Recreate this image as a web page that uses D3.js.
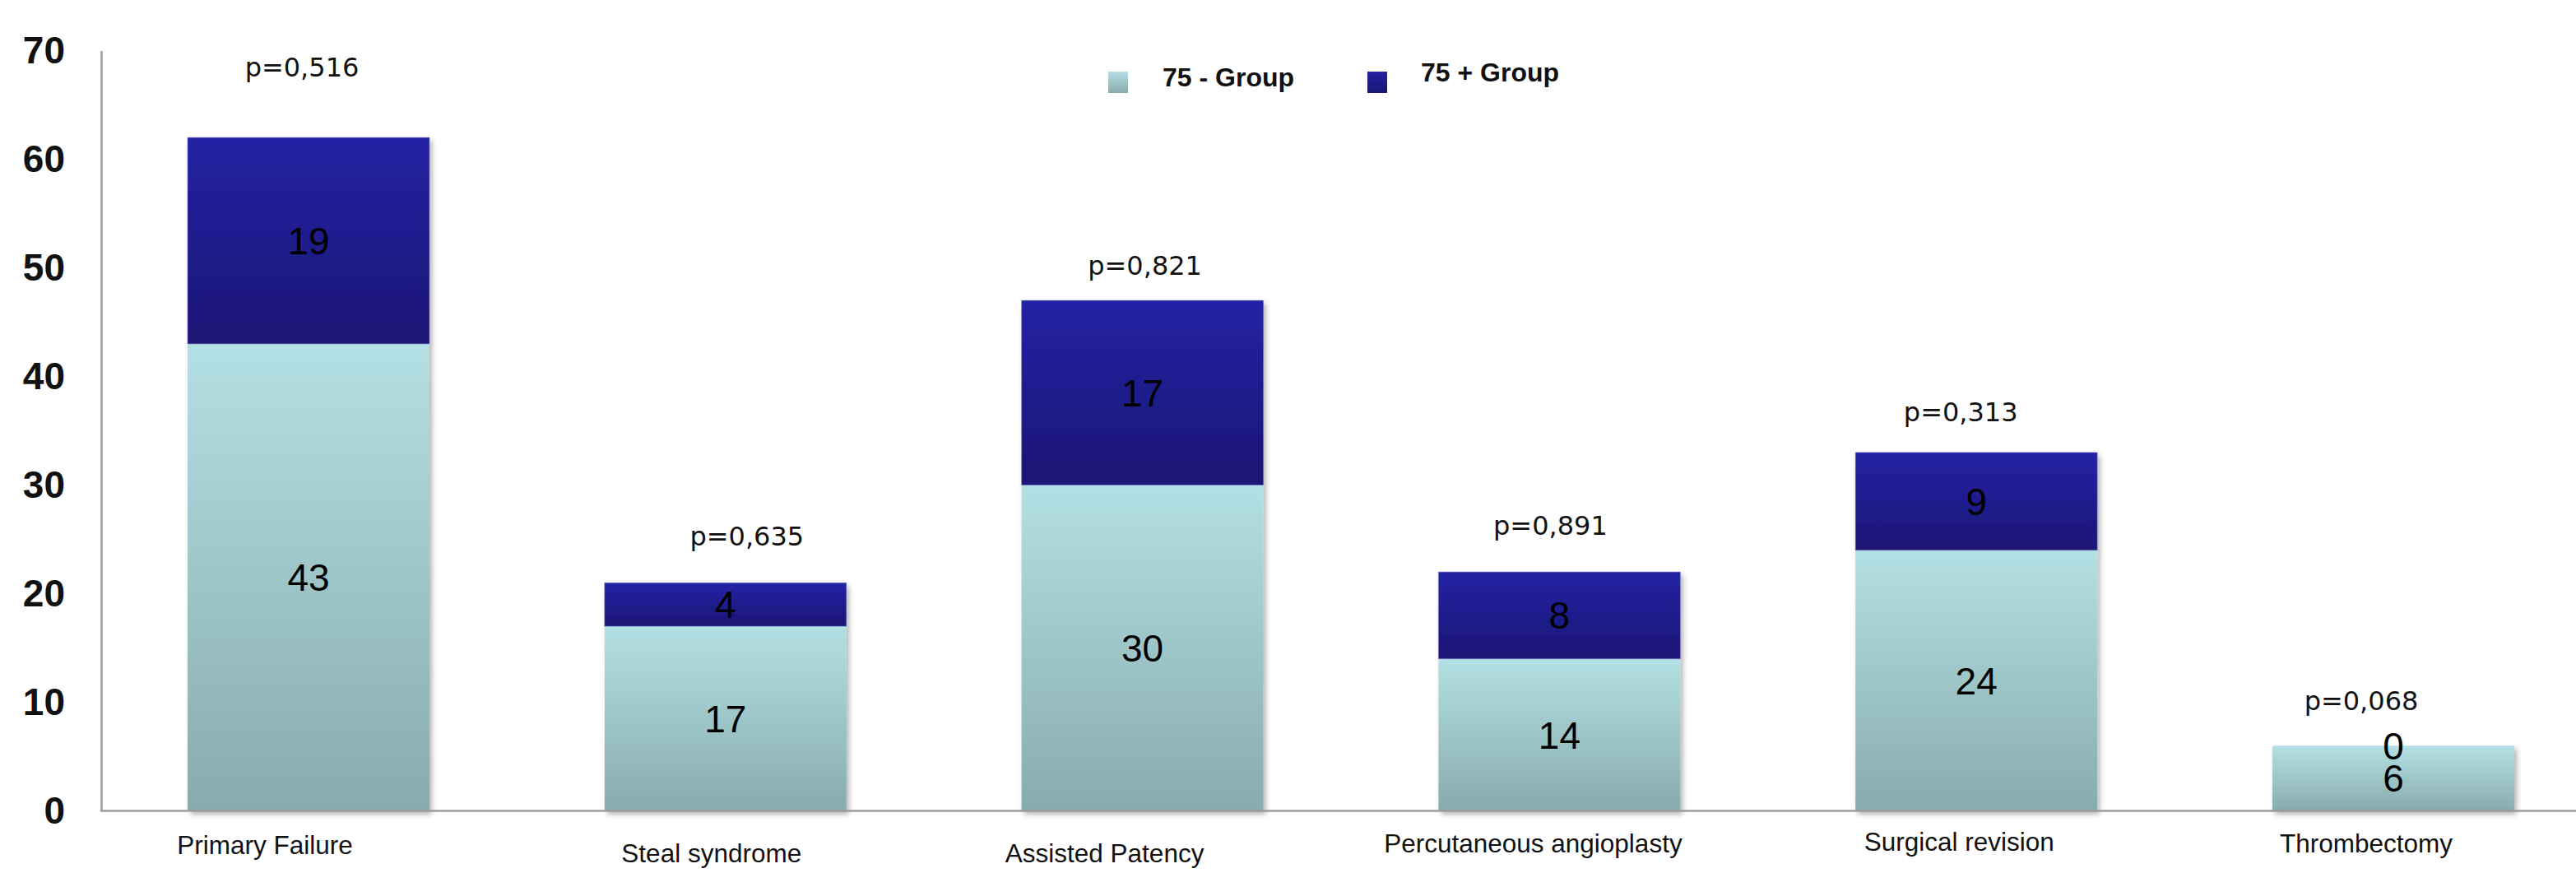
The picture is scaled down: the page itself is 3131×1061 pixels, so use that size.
<!DOCTYPE html>
<html>
<head>
<meta charset="utf-8">
<script src="https://cdn.jsdelivr.net/npm/d3@7/dist/d3.min.js"></script>
<style>
  html, body { margin: 0; padding: 0; background: #ffffff; }
  svg { display: block; }
</style>
</head>
<body>
<svg id="chart" width="3131" height="1061"></svg>
<script>
// Complications by age group (stacked counts)
const categories = ["Primary Failure", "Steal syndrome", "Assisted Patency",
                    "Percutaneous angioplasty", "Surgical revision", "Thrombectomy"];
const under75 = [43, 17, 30, 14, 24, 6];
const over75  = [19, 4, 17, 8, 9, 0];
const pValues = ["p=0,516", "p=0,635", "p=0,821", "p=0,891", "p=0,313", "p=0,068"];
const seriesNames = ["75 - Group", "75 + Group"];
const yTicks = [0, 10, 20, 30, 40, 50, 60, 70];

// Hand-placed nudges for the annotation texts (pixels)
const catLabelShift = [[-53, 52], [-17, 62], [-46, 62], [-32, 50], [-21, 48], [-33, 50]];
const pLabelShift   = [[-8, -74], [26, -45], [3, -31], [-11, -45], [-19, -38], [-39, -43]];

const W = 3131, H = 1061;
const svg = d3.select("#chart");

const x = d3.scaleBand().domain(categories).range([121.6, 3162.4])
  .paddingInner(0.42).paddingOuter(0.21);
const y = d3.scaleLinear().domain([0, 70]).range([985.5, 61.5]);

const defs = svg.append("defs");
function vGrad(id, top, bottom) {
  const g = defs.append("linearGradient").attr("id", id)
    .attr("x1", 0).attr("y1", 0).attr("x2", 0).attr("y2", 1);
  g.append("stop").attr("offset", "0%").attr("stop-color", top);
  g.append("stop").attr("offset", "100%").attr("stop-color", bottom);
}
vGrad("gLight", "#b3e0e4", "#88abad");
vGrad("gDark", "#2422a5", "#1a1674");
const colors = ["url(#gLight)", "url(#gDark)"];

const shadow = defs.append("filter").attr("id", "shadow")
  .attr("x", "-10%").attr("y", "-10%").attr("width", "130%").attr("height", "130%");
shadow.append("feDropShadow").attr("dx", 3).attr("dy", 4).attr("stdDeviation", 3)
  .attr("flood-color", "#000").attr("flood-opacity", 0.3);

// Stacked layout
const rows = categories.map((c, i) => ({ cat: c, under: under75[i], over: over75[i] }));
const stack = d3.stack().keys(["under", "over"]);
const layers = stack(rows);

// Axes
const yAxis = svg.append("g")
  .attr("transform", "translate(123,0)")
  .call(d3.axisLeft(y).tickValues(yTicks).tickSize(0).tickSizeOuter(0).tickPadding(44));
yAxis.select(".domain").attr("stroke", "#9c9c9c").attr("stroke-width", 2.5);
yAxis.selectAll("text")
  .attr("font-family", "'Liberation Sans', Arial, sans-serif")
  .attr("font-size", 46).attr("font-weight", "bold").attr("fill", "#111");

// Bars
const barG = svg.append("g").attr("filter", "url(#shadow)");
layers.forEach((layer, li) => {
  barG.append("g").selectAll("rect")
    .data(layer)
    .join("rect")
    .attr("x", d => x(d.data.cat))
    .attr("width", x.bandwidth())
    .attr("y", d => y(d[1]))
    .attr("height", d => y(d[0]) - y(d[1]))
    .attr("fill", colors[li])
    .attr("stroke", li === 1 ? "#7a78c8" : "none")
    .attr("stroke-opacity", 0.5)
    .attr("stroke-width", 1);
});

// Baseline
const xAxis = svg.append("g")
  .attr("transform", `translate(0,${y(0)})`)
  .call(d3.axisBottom(x).tickSize(0).tickSizeOuter(0).tickFormat(""));
xAxis.select(".domain").attr("stroke", "#9c9c9c").attr("stroke-width", 2.5)
  .attr("d", `M122,0H${W}`);

// Segment values
layers.forEach(layer => {
  svg.append("g").selectAll("text")
    .data(layer)
    .join("text")
    .attr("x", d => x(d.data.cat) + x.bandwidth() / 2)
    .attr("y", d => (y(d[0]) + y(d[1])) / 2)
    .attr("dy", "0.36em")
    .attr("text-anchor", "middle")
    .attr("font-family", "'Liberation Sans', Arial, sans-serif")
    .attr("font-size", 46)
    .attr("fill", "#000")
    .text(d => d[1] - d[0]);
});

// p-values above each stack
svg.append("g").selectAll("text")
  .data(rows)
  .join("text")
  .attr("x", (d, i) => x(d.cat) + x.bandwidth() / 2 + pLabelShift[i][0])
  .attr("y", (d, i) => y(d.under + d.over) + pLabelShift[i][1])
  .attr("text-anchor", "middle")
  .attr("font-family", "'DejaVu Sans', sans-serif")
  .attr("font-size", 32)
  .attr("fill", "#111")
  .text((d, i) => pValues[i]);

// Category labels
svg.append("g").selectAll("text")
  .data(categories)
  .join("text")
  .attr("x", (d, i) => x(d) + x.bandwidth() / 2 + catLabelShift[i][0])
  .attr("y", (d, i) => y(0) + catLabelShift[i][1])
  .attr("text-anchor", "middle")
  .attr("font-family", "'Liberation Sans', Arial, sans-serif")
  .attr("font-size", 31.5)
  .attr("fill", "#111")
  .text(d => d);

// Legend
const legendItems = [
  { name: seriesNames[0], fill: colors[0], sx: 1347, tx: 1413, base: 105 },
  { name: seriesNames[1], fill: colors[1], sx: 1662, tx: 1727, base: 99 }
];
const lg = svg.append("g");
legendItems.forEach(it => {
  lg.append("rect").attr("x", it.sx).attr("y", 87).attr("width", 24).attr("height", 26)
    .attr("fill", it.fill);
  lg.append("text").attr("x", it.tx).attr("y", it.base)
    .attr("font-family", "'Liberation Sans', Arial, sans-serif")
    .attr("font-size", 32).attr("font-weight", "bold").attr("fill", "#111")
    .text(it.name);
});
</script>
</body>
</html>
